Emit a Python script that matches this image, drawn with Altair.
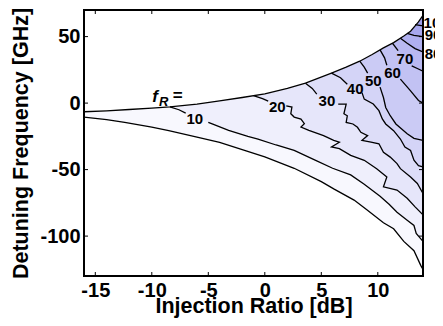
import altair as alt
import pandas as pd

# ---------------- data ----------------
X_DOMAIN = [-16, 14]
Y_DOMAIN = [-130, 70]
X_TICKS = [-15, -10, -5, 0, 5, 10]
Y_TICKS = [-100, -50, 0, 50]

UPPER_X = [-16, -14, -12, -10, -8.4, -6, -4, -2, 0, 2, 3.6, 5.9, 7.2, 8.4, 9.5, 10.5, 11.4, 12.3, 12.9, 13.6, 14]
UPPER_Y = [-6.5, -5.8, -4.8, -3.8, -2.8, -0.8, 1.7, 4.2, 7.0, 11.0, 15.0, 22.5, 27.0, 31.5, 36.5, 41.5, 45.5, 50.5, 54.0, 61.0, 66.0]
LOWER_X = [-16, -14, -12.4, -10, -8.5, -6, -4, -2, 0, 2.6, 5, 6.1, 7.9, 9, 10.5, 11.4, 12.3, 13.2, 13.8, 14]
LOWER_Y = [-10.5, -12.5, -14.5, -18, -20.7, -25.5, -29.5, -35, -40.5, -49, -59, -64.5, -72.9, -80, -90, -94.5, -104, -111, -122, -125]

# contour lines (None = gap where the inline label sits)
C10_X = [-8.4, -7.6, -7.0, None, -5.0, -4.6, -3.2, -1.5, -0.6, 1.0, 2.6, 4.5, 6.0, 7.6, 8.8, 10.2, 11.0, 11.7, 12.6, 13.2, 13.4, 14.0]
C10_Y = [-2.8, -5.0, -7.5, None, -14.5, -15.8, -20.5, -25.0, -27.0, -31.5, -35.6, -43.0, -49.0, -54.0, -61.0, -70.0, -76.0, -82.0, -88.0, -92.0, -98.0, -104.0]
C20_X = [-1.0, -0.2, 0.3, None, 1.9, 2.4, 2.3, 2.6, 3.2, 3.5, 3.2, 3.9, 5.2, 6.1, 6.6, 5.9, 6.6, 7.6, 8.8, 9.9, 10.8, 10.5, 11.7, 12.6, 13.3, 14.0]
C20_Y = [5.6, 3.3, 1.5, None, -2.0, -3.0, -8.0, -10.5, -12.0, -15.5, -18.0, -20.5, -24.4, -28.0, -29.4, -33.0, -34.3, -39.3, -43.0, -49.3, -55.5, -63.0, -65.4, -71.6, -78.0, -84.0]
C30_X = [3.6, 4.2, 4.6, None, 6.5, 7.2, 7.0, 7.3, 7.2, 7.8, 8.2, 8.5, 9.1, 8.6, 9.4, 10.1, 10.5, 11.1, 11.7, 12.0, 12.9, 13.5, 14.0]
C30_Y = [15.0, 11.0, 6.7, None, -0.8, -0.8, -8.0, -9.5, -14.5, -15.7, -18.2, -22.0, -24.4, -28.0, -29.4, -30.6, -37.0, -40.6, -45.5, -49.3, -55.5, -60.4, -68.0]
C40_X = [5.9, 6.7, 7.3, None, 8.6, 8.8, 9.6, 10.1, 10.4, 10.7, 11.4, 12.0, 12.4, 12.9, 13.2, 13.6, 14.0]
C40_Y = [22.5, 19.1, 14.2, None, 7.9, 3.0, -0.7, -5.7, -11.9, -15.7, -20.7, -27.0, -33.0, -35.6, -43.0, -47.0, -48.0]
C50_X = [8.4, 8.8, 9.1, None, 10.2, 10.5, 10.7, 11.1, 11.6, 12.6, 13.2, 14.0]
C50_Y = [31.5, 27.0, 22.5, None, 12.0, 4.2, -3.3, -9.5, -15.7, -23.1, -26.5, -28.0]
C60_X = [10.2, 10.6, 10.8, None, 12.0, 12.9, 13.6, 14.0]
C60_Y = [40.0, 34.0, 28.5, None, 18.0, 9.2, 2.0, 0.0]
C70_X = [11.3, 11.8, None, 13.0, 13.5, 14.0]
C70_Y = [45.0, 39.5, None, 28.0, 26.0, 24.0]
C80_X = [12.0, 12.6, 13.3, 14.0]
C80_Y = [48.8, 45.0, 41.0, 38.5]
C90_X = [12.6, 13.2, 14.0]
C90_Y = [52.5, 51.0, 50.0]
C100_X = [13.3, 13.7, 14.0]
C100_Y = [59.0, 58.5, 58.0]

LEVELS = [10, 20, 30, 40, 50, 60, 70, 80, 90, 100]
CONTOURS_X = [C10_X, C20_X, C30_X, C40_X, C50_X, C60_X, C70_X, C80_X, C90_X, C100_X]
CONTOURS_Y = [C10_Y, C20_Y, C30_Y, C40_Y, C50_Y, C60_Y, C70_Y, C80_Y, C90_Y, C100_Y]

BAND_COLORS = ["#F8F8FE", "#EFEFFC", "#E6E6FA", "#DDDDF8", "#D4D4F7", "#CBCBF5",
               "#C2C2F3", "#B9B9F1", "#B0B0F0", "#A7A7EE", "#9E9EEC"]

IN_LABELS = ["10", "20", "30", "40", "50", "60", "70"]
IN_LABEL_X = [-6.2, 1.1, 5.5, 8.0, 9.6, 11.3, 12.4]
IN_LABEL_Y = [-12.2, -3.2, 1.7, 10.4, 16.7, 22.9, 32.8]
OUT_LABELS = ["80", "90", "100"]
OUT_LABEL_X = [14.15, 14.15, 14.05]
OUT_LABEL_Y = [36.6, 51.5, 60.2]

FR_PARTS = ["f", "R", "="]
FR_X = [-9.7, -8.95, -7.7]
FR_Y = [4.7, 0.7, 5.4]

# ---------------- chart ----------------
W, H = 339, 266
FONT = "Liberation Sans"
EXT_X, EXT_L, EXT_TOP, EXT_BOT = 30, -30, 200, -400

xs = alt.Scale(domain=X_DOMAIN, nice=False, zero=False)
ys = alt.Scale(domain=Y_DOMAIN, nice=False, zero=False)
X_AX = alt.Axis(values=X_TICKS, ticks=False, tickSize=0, domain=False, grid=False,
                labelExpr="'' + datum.value", labelPadding=4,
                title="Injection Ratio [dB]", titleY=36, titleBaseline="alphabetic")
Y_AX = alt.Axis(values=Y_TICKS, ticks=False, tickSize=0, domain=False, grid=False,
                labelExpr="'' + datum.value", labelPadding=4,
                title="Detuning Frequency [GHz]", titleX=-57, titleBaseline="alphabetic")


def enc_x():
    return alt.X("x:Q", scale=xs, axis=X_AX)


def enc_y():
    return alt.Y("y:Q", scale=ys, axis=Y_AX)


def polygon(px, py, color):
    df = pd.DataFrame({"i": list(range(len(px))), "x": px, "y": py})
    return alt.Chart(df).mark_line(fill=color, stroke=color, strokeWidth=0.6,
                                   clip=True, interpolate="linear").encode(
        x=enc_x(), y=enc_y(), order=alt.Order("i:Q"))


layers = []
# base band (below 10)
layers.append(polygon([EXT_L, EXT_X, EXT_X, EXT_L], [EXT_BOT, EXT_BOT, EXT_TOP, EXT_TOP], BAND_COLORS[0]))
# bands above each contour
for k in range(len(LEVELS)):
    cx = [v for v in CONTOURS_X[k] if v is not None]
    cy = [v for v in CONTOURS_Y[k] if v is not None]
    px = cx + [EXT_X, EXT_X, cx[0]]
    py = cy + [cy[-1], EXT_TOP, EXT_TOP]
    layers.append(polygon(px, py, BAND_COLORS[k + 1]))
# white outside the locking range
layers.append(polygon(UPPER_X + [EXT_X, EXT_X, EXT_L, EXT_L],
                      UPPER_Y + [UPPER_Y[-1], EXT_TOP, EXT_TOP, UPPER_Y[0]], "white"))
layers.append(polygon(LOWER_X + [EXT_X, EXT_X, EXT_L, EXT_L],
                      LOWER_Y + [LOWER_Y[-1], EXT_BOT, EXT_BOT, LOWER_Y[0]], "white"))

# black lines
rows = []
seg = 0
for lx, ly in [(UPPER_X, UPPER_Y), (LOWER_X, LOWER_Y)] + list(zip(CONTOURS_X, CONTOURS_Y)):
    seg += 1
    for j, (a, b) in enumerate(zip(lx, ly)):
        if a is None:
            seg += 1
            continue
        rows.append({"seg": seg, "i": j, "x": a, "y": b})
lines_df = pd.DataFrame(rows)
layers.append(alt.Chart(lines_df).mark_line(color="black", strokeWidth=1.3, clip=True).encode(
    x=enc_x(), y=enc_y(), detail="seg:N", order=alt.Order("i:Q")))

# contour labels
in_df = pd.DataFrame({"x": IN_LABEL_X, "y": IN_LABEL_Y, "t": IN_LABELS})
layers.append(alt.Chart(in_df).mark_text(font=FONT, fontSize=15, fontWeight="bold",
                                         color="black", align="center", baseline="middle").encode(
    x=enc_x(), y=enc_y(), text="t:N"))
out_df = pd.DataFrame({"x": OUT_LABEL_X, "y": OUT_LABEL_Y, "t": OUT_LABELS})
layers.append(alt.Chart(out_df).mark_text(font=FONT, fontSize=15, fontWeight="bold",
                                          color="black", align="left", baseline="middle").encode(
    x=enc_x(), y=enc_y(), text="t:N"))

# f_R = annotation
fr_sizes = [17, 13, 17]
fr_styles = ["italic", "italic", "normal"]
for t, fx, fy, fs, st in zip(FR_PARTS, FR_X, FR_Y, fr_sizes, fr_styles):
    d = pd.DataFrame({"x": [fx], "y": [fy], "t": [t]})
    layers.append(alt.Chart(d).mark_text(font=FONT, fontSize=fs, fontWeight="bold", fontStyle=st,
                                         color="black", align="center", baseline="middle").encode(
        x=enc_x(), y=enc_y(), text="t:N"))

# inward ticks on all four sides
xt = pd.DataFrame({"x": X_TICKS})
yt = pd.DataFrame({"y": Y_TICKS})
TL = 4
layers.append(alt.Chart(xt).mark_rule(color="black", strokeWidth=1).encode(
    x=enc_x(), y=alt.value(H), y2=alt.value(H - TL)))
layers.append(alt.Chart(xt).mark_rule(color="black", strokeWidth=1).encode(
    x=enc_x(), y=alt.value(0), y2=alt.value(TL)))
layers.append(alt.Chart(yt).mark_rule(color="black", strokeWidth=1).encode(
    y=enc_y(), x=alt.value(0), x2=alt.value(TL)))
layers.append(alt.Chart(yt).mark_rule(color="black", strokeWidth=1).encode(
    y=enc_y(), x=alt.value(W), x2=alt.value(W - TL)))

# frame
frame_df = pd.DataFrame({"x": [X_DOMAIN[0]], "x2": [X_DOMAIN[1]], "y": [Y_DOMAIN[0]], "y2": [Y_DOMAIN[1]]})
layers.append(alt.Chart(frame_df).mark_rect(fillOpacity=0, stroke="black", strokeWidth=2).encode(
    x=enc_x(), x2="x2:Q", y=enc_y(), y2="y2:Q"))

chart = alt.layer(*layers).properties(
    width=W, height=H,
    autosize=alt.AutoSizeParams(type="none"),
    padding={"left": 76, "top": 2, "right": 12, "bottom": 42},
).configure_view(stroke=None).configure(background="white").configure_axis(
    labelFont=FONT, labelFontSize=20, labelFontWeight="bold", labelColor="black",
    titleFont=FONT, titleFontSize=21.5, titleFontWeight="bold", titleColor="black",
)

chart.save("out.html", embed_options={"renderer": "svg", "actions": False})
